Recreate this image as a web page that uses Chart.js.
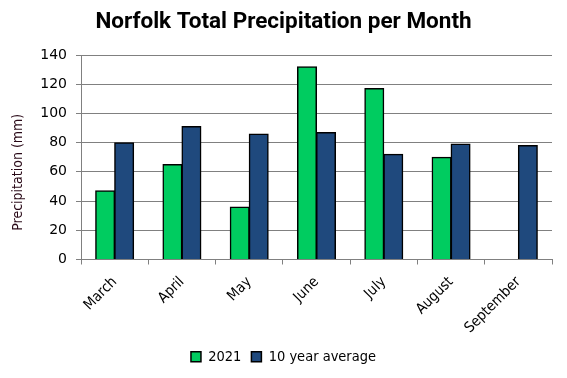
<!DOCTYPE html>
<html>
<head>
<meta charset="utf-8">
<script src="https://cdn.jsdelivr.net/npm/chart.js@4"></script>
<style>
  html, body { margin: 0; padding: 0; background: #fff; }
  #wrap { width: 567px; height: 378px; }
</style>
</head>
<body>
<div id="wrap"><canvas id="c" width="567" height="378"></canvas></div>
<script>
const categories = ["March", "April", "May", "June", "July", "August", "September"];
const values2021 = [47, 65, 36, 132, 117, 70, null];
const tenYearAverage = [80, 91, 86, 87, 72, 79, 78];
const yTicks = [0, 20, 40, 60, 80, 100, 120, 140];
const yTitleText = 'Precipitation (mm)';

// Draws the y-axis title a little below the plot centre, as in the reference
const yTitlePlugin = {
  id: 'yTitle',
  afterDraw(chart) {
    const y = chart.scales.y;
    const c = chart.ctx;
    c.save();
    c.translate(18, (y.top + y.bottom) / 2 + 15);
    c.rotate(-Math.PI / 2);
    c.fillStyle = '#2a0a18';
    c.font = '14px "DejaVu Sans Condensed"';
    c.textAlign = 'center';
    c.textBaseline = 'middle';
    c.fillText(yTitleText, 0, 0);
    c.restore();
  }
};

const ctx = document.getElementById('c').getContext('2d');
new Chart(ctx, {
  type: 'bar',
  data: {
    labels: categories,
    datasets: [
      { label: '2021', data: values2021, backgroundColor: '#00cc60', borderColor: '#000', borderWidth: 1.5, borderSkipped: 'bottom', inflateAmount: 0.5 },
      { label: '10 year average', data: tenYearAverage, backgroundColor: '#1f497d', borderColor: '#000', borderWidth: 1.5, borderSkipped: 'bottom', inflateAmount: 0.5 }
    ]
  },
  options: {
    responsive: false,
    animation: false,
    devicePixelRatio: 1,
    layout: { padding: { left: 15, right: 15, top: 0, bottom: 4 } },
    datasets: { bar: { categoryPercentage: 0.565, barPercentage: 1.0 } },
    plugins: {
      title: {
        display: true,
        text: 'Norfolk Total Precipitation per Month',
        color: '#000',
        font: { family: 'Roboto', size: 22.5, weight: 'bold' },
        padding: { top: 9, bottom: 19 }
      },
      legend: {
        position: 'bottom',
        labels: {
          color: '#000',
          boxWidth: 10,
          boxHeight: 10,
          padding: 10,
          font: { family: 'DejaVu Sans Condensed', size: 14.5 }
        }
      },
      tooltip: { enabled: false }
    },
    scales: {
      x: {
        offset: true,
        grid: { display: true, offset: true, drawOnChartArea: false, drawTicks: true, tickLength: 5, color: '#808080' },
        border: { display: true, color: '#808080', width: 1 },
        ticks: {
          color: '#000',
          maxRotation: 45, minRotation: 45,
          padding: 9,
          font: { family: 'DejaVu Sans Condensed', size: 14.5 }
        },
        afterFit: (s) => { s.height = 80; }
      },
      y: {
        min: 0, max: 140,
        afterBuildTicks: (s) => { s.ticks = yTicks.map(v => ({ value: v })); },
        grid: { color: '#808080', tickLength: 5, lineWidth: 1 },
        border: { display: true, color: '#808080', width: 1 },
        ticks: {
          color: '#000',
          padding: 9,
          font: { family: 'DejaVu Sans', size: 14 }
        },
        title: { display: false },
        afterFit: (s) => { s.width = 66; }
      }
    }
  },
  plugins: [yTitlePlugin]
});
</script>
</body>
</html>
